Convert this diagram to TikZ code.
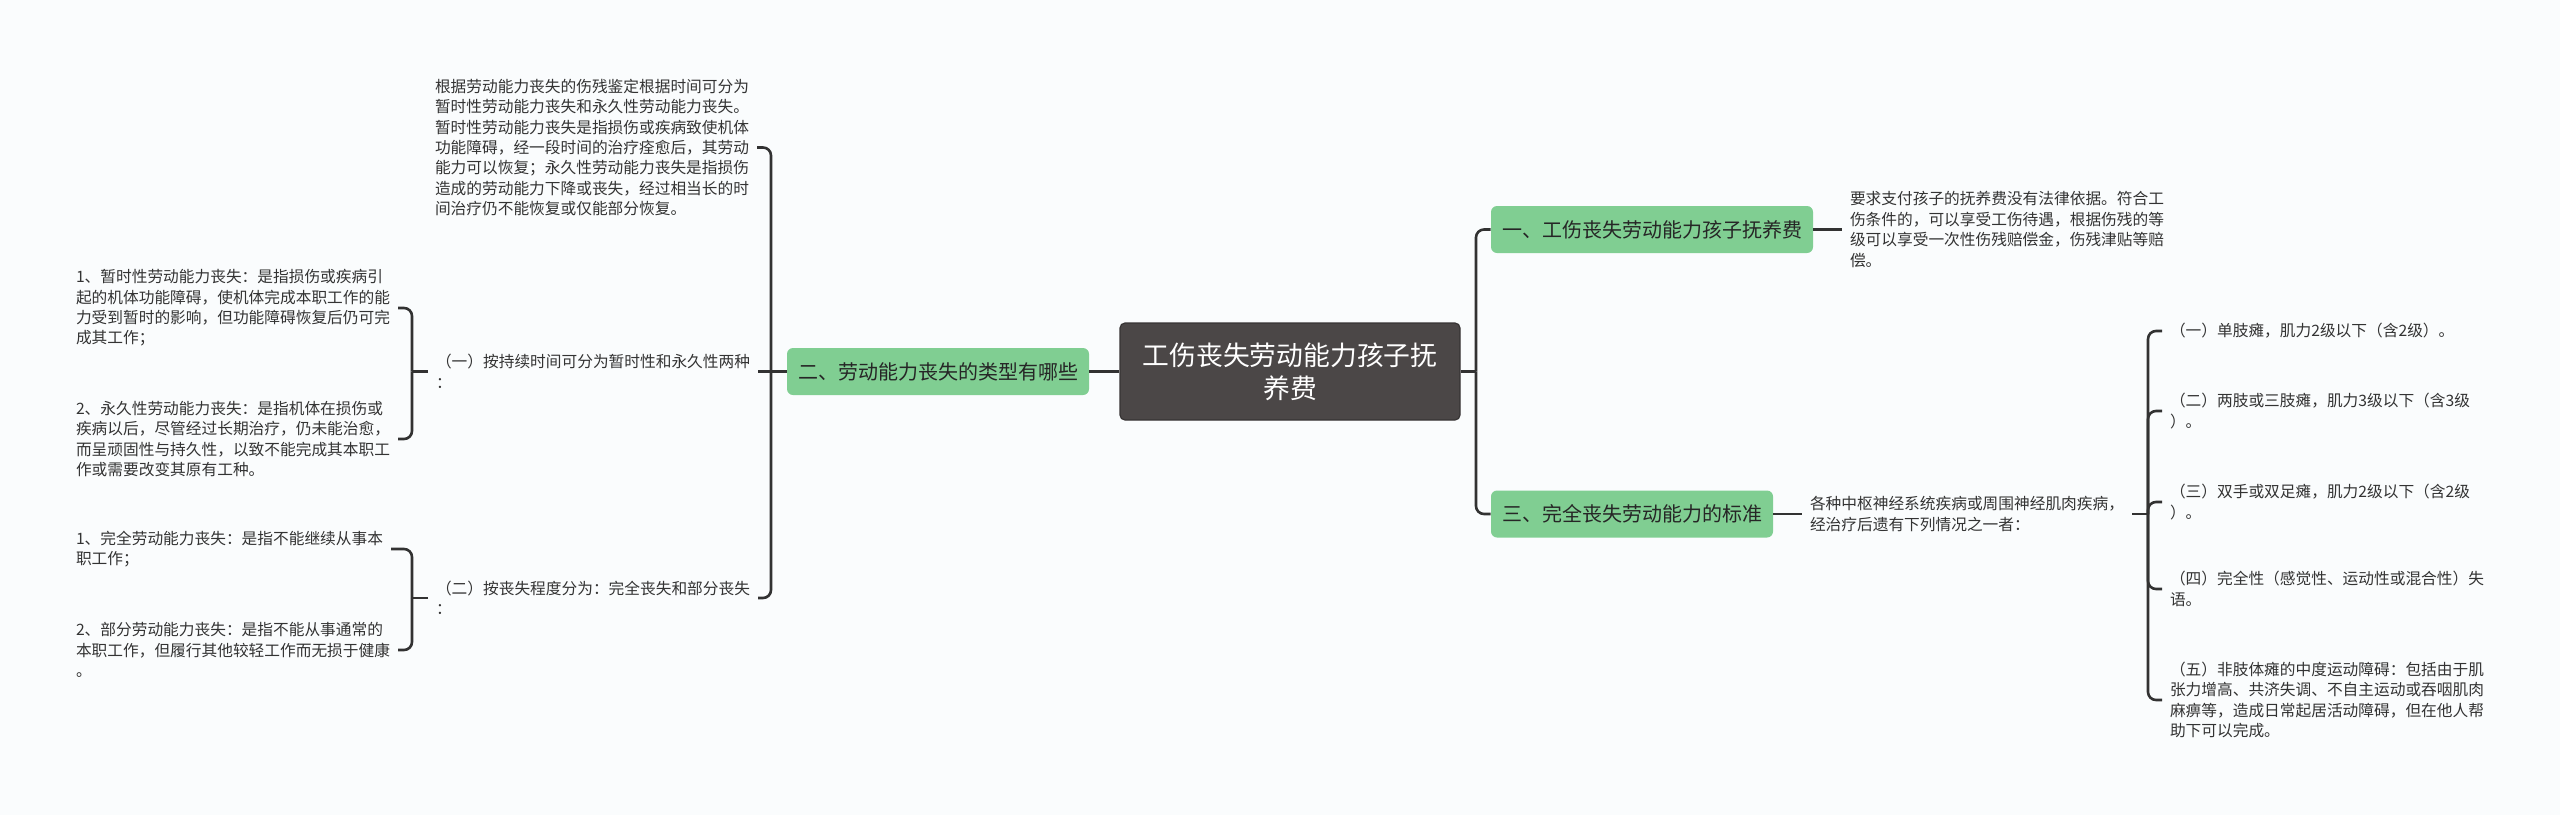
\documentclass[tikz,border=0pt]{standalone}
\usepackage{fontspec}
\setmainfont{Noto Sans CJK SC}
\definecolor{bgc}{RGB}{250,252,253}
\definecolor{greenc}{RGB}{128,206,146}
\definecolor{darkc}{RGB}{75,71,71}
\definecolor{darkb}{RGB}{55,52,52}
\definecolor{linec}{RGB}{50,50,50}
\definecolor{textc}{RGB}{51,51,51}
\definecolor{btext}{RGB}{38,38,38}
\begin{document}
\begin{tikzpicture}[x=0.5pt,y=-0.5pt,
  conn/.style={draw=linec, line width=1.3pt, rounded corners=4pt},
  txt/.style={font=\fontsize{7.85}{10.2}\selectfont, text=textc, align=left, inner sep=0pt, outer xsep=4pt, anchor=west},
  branch/.style={fill=greenc, rounded corners=3pt, minimum height=23.5pt, inner sep=0pt, font=\fontsize{10}{12}\selectfont, text=btext},
  central/.style={fill=darkc, draw=darkb, line width=0.6pt, rounded corners=2.5pt, text=white, align=center, inner sep=0pt, font=\fontsize{13.4}{16.5}\selectfont, minimum width=170pt, minimum height=48.5pt}
]
\useasboundingbox[fill=bgc] (0,0) rectangle (2560,815);

% central and branches
\node[central] (c) at (1290,371.5) {工伤丧失劳动能力孩子抚\\养费};
\node[branch, minimum width=151pt] (b2) at (938,371.5) {二、劳动能力丧失的类型有哪些};
\node[branch, minimum width=161pt] (b1) at (1652,229.5) {一、工伤丧失劳动能力孩子抚养费};
\node[branch, minimum width=141pt] (b3) at (1632,514) {三、完全丧失劳动能力的标准};

% left texts
\node[txt] (P0) at (427,147.5) {根据劳动能力丧失的伤残鉴定根据时间可分为\\暂时性劳动能力丧失和永久性劳动能力丧失。\\暂时性劳动能力丧失是指损伤或疾病致使机体\\功能障碍，经一段时间的治疗痊愈后，其劳动\\能力可以恢复；永久性劳动能力丧失是指损伤\\造成的劳动能力下降或丧失，经过相当长的时\\间治疗仍不能恢复或仅能部分恢复。};
\node[txt] (L1) at (428,371.5) {（一）按持续时间可分为暂时性和永久性两种\\：};
\node[txt] (L2) at (428,598) {（二）按丧失程度分为：完全丧失和部分丧失\\：};
\node[txt] (LL1) at (68,308) {1、暂时性劳动能力丧失：是指损伤或疾病引\\起的机体功能障碍，使机体完成本职工作的能\\力受到暂时的影响，但功能障碍恢复后仍可完\\成其工作；};
\node[txt] (LL2) at (68,439) {2、永久性劳动能力丧失：是指机体在损伤或\\疾病以后，尽管经过长期治疗，仍未能治愈，\\而呈顽固性与持久性，以致不能完成其本职工\\作或需要改变其原有工种。};
\node[txt] (LL3) at (68,549) {1、完全劳动能力丧失：是指不能继续从事本\\职工作；};
\node[txt] (LL4) at (68,650) {2、部分劳动能力丧失：是指不能从事通常的\\本职工作，但履行其他较轻工作而无损于健康\\。};

% right texts
\node[txt] (R1) at (1842,229.5) {要求支付孩子的抚养费没有法律依据。符合工\\伤条件的，可以享受工伤待遇，根据伤残的等\\级可以享受一次性伤残赔偿金，伤残津贴等赔\\偿。};
\node[txt] (R3) at (1802,514) {各种中枢神经系统疾病或周围神经肌肉疾病，\\经治疗后遗有下列情况之一者：};
\node[txt] (RR1) at (2162,331) {（一）单肢瘫，肌力2级以下（含2级）。};
\node[txt] (RR2) at (2162,411) {（二）两肢或三肢瘫，肌力3级以下（含3级\\）。};
\node[txt] (RR3) at (2162,502) {（三）双手或双足瘫，肌力2级以下（含2级\\）。};
\node[txt] (RR4) at (2162,589) {（四）完全性（感觉性、运动性或混合性）失\\语。};
\node[txt] (RR5) at (2162,700) {（五）非肢体瘫的中度运动障碍：包括由于肌\\张力增高、共济失调、不自主运动或吞咽肌肉\\麻痹等，造成日常起居活动障碍，但在他人帮\\助下可以完成。};

% junctions
\coordinate (jL) at (771,371.5);
\coordinate (jLL1) at (412,371.5);
\coordinate (jLL2) at (412,598);
\coordinate (jR) at (1476,371.5);
\coordinate (jRR) at (2148,514);

% connectors left
\draw[conn] (c.west) -- (b2.east);
\draw[conn] (b2.west) -- (L1.east);
\draw[conn] (jL) |- (P0.east);
\draw[conn] (jL) |- (L2.east);
\draw[conn] (L1.west) -- (jLL1);
\draw[conn] (jLL1) |- (LL1.east);
\draw[conn] (jLL1) |- (LL2.east);
\draw[conn] (L2.west) -- (jLL2);
\draw[conn] (jLL2) |- (LL3.east);
\draw[conn] (jLL2) |- (LL4.east);

% connectors right
\draw[conn] (c.east) -- (jR);
\draw[conn] (jR) |- (b1.west);
\draw[conn] (jR) |- (b3.west);
\draw[conn] (b1.east) -- (R1.west);
\draw[conn] (b3.east) -- (R3.west);
\draw[conn] (R3.east) -- (jRR);
\foreach \n in {RR1,RR2,RR3,RR4,RR5} \draw[conn] (jRR) |- (\n.west);
\end{tikzpicture}
\end{document}
